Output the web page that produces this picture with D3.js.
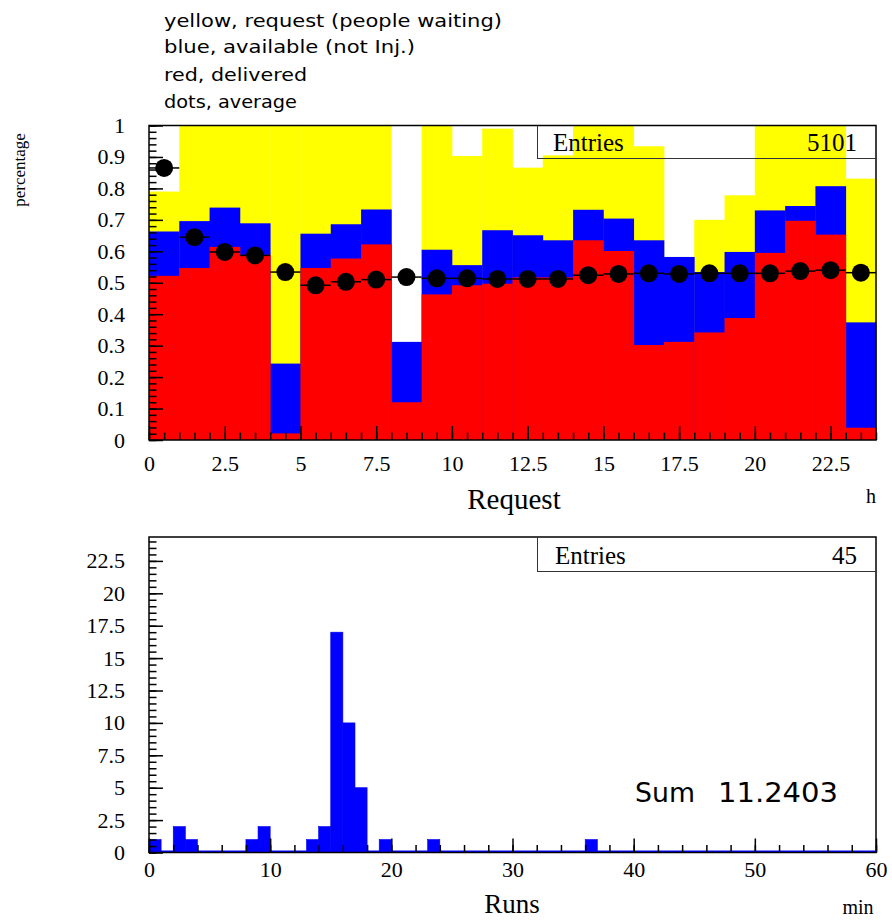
<!DOCTYPE html>
<html>
<head>
<meta charset="utf-8">
<script src="https://cdn.jsdelivr.net/npm/d3@7"></script>
<style>
  html, body { margin: 0; padding: 0; background: #fff; }
  svg { display: block; }
</style>
</head>
<body>
<svg id="chart" width="892" height="921"></svg>
<script>
// ---------- DATA ----------
const hours = [0,1,2,3,4,5,6,7,8,9,10,11,12,13,14,15,16,17,18,19,20,21,22,23];
const requestPct   = [0.79,1,1,1,1,1,1,1,0.31,1,0.903,0.99,0.866,0.905,1,1,0.934,0.582,0.70,0.778,1,1,1,0.831];
const availablePct = [0.663,0.696,0.739,0.689,0.243,0.656,0.686,0.733,0.312,0.605,0.556,0.667,0.651,0.635,0.732,0.704,0.635,0.582,0.534,0.598,0.73,0.744,0.807,0.374];
const deliveredPct = [0.522,0.547,0.614,0.589,0.021,0.547,0.577,0.622,0.12,0.463,0.492,0.497,0.517,0.517,0.635,0.601,0.302,0.312,0.342,0.388,0.595,0.697,0.653,0.039];
const averagePct   = [0.865,0.645,0.598,0.587,0.534,0.492,0.503,0.51,0.518,0.514,0.514,0.512,0.512,0.512,0.524,0.528,0.53,0.528,0.53,0.53,0.53,0.537,0.54,0.532];

const runsMinutes = [0,1,2,3,4,5,6,7,8,9,10,11,12,13,14,15,16,17,18,19,20,21,22,23,24,25,26,27,28,29,
                     30,31,32,33,34,35,36,37,38,39,40,41,42,43,44,45,46,47,48,49,50,51,52,53,54,55,56,57,58,59];
const runsCounts  = [1,0,2,1,0,0,0,0,1,2,0,0,0,1,2,17,10,5,0,1,0,0,0,1,0,0,0,0,0,0,
                     0,0,0,0,0,0,1,0,0,0,0,0,0,0,0,0,0,0,0,0,0,0,0,0,0,0,0,0,0,0];

const topYTicks = [0,0.1,0.2,0.3,0.4,0.5,0.6,0.7,0.8,0.9,1];
const topXTicks = [0,2.5,5,7.5,10,12.5,15,17.5,20,22.5];
const botYTicks = [0,2.5,5,7.5,10,12.5,15,17.5,20,22.5];
const botXTicks = [0,10,20,30,40,50,60];

const legendLines = ["yellow, request (people waiting)", "blue, available (not Inj.)", "red, delivered", "dots, average"];
const topEntries = 5101;
const botEntries = 45;
const sumText = "11.2403";

// ---------- LAYOUT ----------
const svg = d3.select("#chart");
const L = 149, R = 876;
const T1 = 125.5, B1 = 440;
const T2 = 537, B2 = 852.5;
const serif = "'Liberation Serif', 'Times New Roman', serif";
const sans = "'DejaVu Sans', sans-serif";

// legend text
const legendY = [27, 53, 81, 108];
const legendW = [338, 251, 143, 133];
legendLines.forEach((t, i) => {
  svg.append("text").attr("x", 164).attr("y", legendY[i])
    .attr("font-family", sans).attr("font-size", 18.5)
    .attr("textLength", legendW[i]).attr("lengthAdjust", "spacingAndGlyphs")
    .text(t);
});

// ---------- TOP CHART ----------
const x1 = d3.scaleLinear().domain([0, 24]).range([L, R]);
const y1 = d3.scaleLinear().domain([0, 1]).range([B1, T1]);
const g1 = svg.append("g");

function bars(vals, color) {
  g1.append("g").selectAll("rect").data(hours).join("rect")
    .attr("x", d => x1(d))
    .attr("width", d => x1(d + 1) - x1(d) + 0.4)
    .attr("y", d => y1(vals[d]))
    .attr("height", d => y1(0) - y1(vals[d]))
    .attr("fill", color);
}
bars(requestPct, "#ffff00");
bars(availablePct, "#0000ff");
bars(deliveredPct, "#ff0000");

// average error bars + dots
g1.append("g").selectAll("line").data(hours).join("line")
  .attr("x1", d => x1(d)).attr("x2", d => x1(d + 1))
  .attr("y1", d => y1(averagePct[d])).attr("y2", d => y1(averagePct[d]))
  .attr("stroke", "#000").attr("stroke-width", 1.5);
g1.append("g").selectAll("circle").data(hours).join("circle")
  .attr("cx", d => x1(d + 0.5)).attr("cy", d => y1(averagePct[d]))
  .attr("r", 9).attr("fill", "#000");

// frame
g1.append("rect").attr("x", L).attr("y", T1).attr("width", R - L).attr("height", B1 - T1)
  .attr("fill", "none").attr("stroke", "#000").attr("stroke-width", 1.5);

// axes
function styleAxis(sel) {
  sel.attr("font-family", serif).attr("font-size", 22);
  sel.select(".domain").remove();
  sel.selectAll("line").attr("stroke", "#000").attr("stroke-width", 1.5);
  sel.selectAll("text").attr("font-family", serif).attr("font-size", 22).attr("fill", "#000");
}
g1.append("g").attr("transform", `translate(${L},0)`)
  .call(d3.axisLeft(y1).tickValues(d3.range(0, 1.0001, 0.02)).tickSize(-7.5).tickFormat(""))
  .call(styleAxis);
g1.append("g").attr("transform", `translate(${L},0)`)
  .call(d3.axisLeft(y1).tickValues(topYTicks).tickSize(-14).tickPadding(24).tickFormat(d3.format("~g")))
  .call(styleAxis);
g1.append("g").attr("transform", `translate(0,${B1})`)
  .call(d3.axisBottom(x1).tickValues(d3.range(0, 24.001, 0.5)).tickSize(-7.5).tickFormat(""))
  .call(styleAxis);
g1.append("g").attr("transform", `translate(0,${B1})`)
  .call(d3.axisBottom(x1).tickValues(topXTicks).tickSize(-14).tickPadding(15).tickFormat(d3.format("~g")))
  .call(styleAxis);

// stats box (outline only)
g1.append("line").attr("x1", 537.5).attr("x2", 537.5).attr("y1", T1).attr("y2", 158.5).attr("stroke", "#333").attr("stroke-width", 1);
g1.append("line").attr("x1", 537).attr("x2", R).attr("y1", 158.5).attr("y2", 158.5).attr("stroke", "#333").attr("stroke-width", 1);
g1.append("text").attr("x", 553).attr("y", 151).attr("font-family", serif).attr("font-size", 25).text("Entries");
g1.append("text").attr("x", 857).attr("y", 151).attr("text-anchor", "end").attr("font-family", serif).attr("font-size", 25).text(topEntries);

// titles
svg.append("text").attr("x", 514).attr("y", 509).attr("text-anchor", "middle")
  .attr("font-family", serif).attr("font-size", 29).text("Request");
svg.append("text").attr("x", 871).attr("y", 503).attr("text-anchor", "middle")
  .attr("font-family", serif).attr("font-size", 20).text("h");
svg.append("text").attr("transform", "translate(25,170) rotate(-90)").attr("text-anchor", "middle")
  .attr("font-family", serif).attr("font-size", 17).text("percentage");

// ---------- BOTTOM CHART ----------
const x2 = d3.scaleLinear().domain([0, 60]).range([L, R]);
const y2 = d3.scaleLinear().domain([0, 20]).range([B2, 593.3]);
const g2 = svg.append("g");

g2.append("g").selectAll("rect").data(runsMinutes.filter(m => runsCounts[m] > 0)).join("rect")
  .attr("x", d => x2(d))
  .attr("width", d => x2(d + 1) - x2(d))
  .attr("y", d => y2(runsCounts[d]))
  .attr("height", d => y2(0) - y2(runsCounts[d]))
  .attr("fill", "#0000ff").attr("stroke", "#0000ee").attr("stroke-width", 0.6);
g2.append("line").attr("x1", L).attr("x2", R).attr("y1", B2 - 1).attr("y2", B2 - 1)
  .attr("stroke", "#0000ff").attr("stroke-width", 2);

g2.append("rect").attr("x", L).attr("y", T2).attr("width", R - L).attr("height", B2 - T2)
  .attr("fill", "none").attr("stroke", "#000").attr("stroke-width", 1.5);

g2.append("g").attr("transform", `translate(${L},0)`)
  .call(d3.axisLeft(y2).tickValues(d3.range(0, 24.01, 0.5)).tickSize(-7.5).tickFormat(""))
  .call(styleAxis);
g2.append("g").attr("transform", `translate(${L},0)`)
  .call(d3.axisLeft(y2).tickValues(botYTicks).tickSize(-14).tickPadding(24).tickFormat(d3.format("~g")))
  .call(styleAxis);
g2.append("g").attr("transform", `translate(0,${B2})`)
  .call(d3.axisBottom(x2).tickValues(d3.range(0, 60.01, 2)).tickSize(-7.5).tickFormat(""))
  .call(styleAxis);
g2.append("g").attr("transform", `translate(0,${B2})`)
  .call(d3.axisBottom(x2).tickValues(botXTicks).tickSize(-14).tickPadding(9).tickFormat(d3.format("~g")))
  .call(styleAxis);

g2.append("line").attr("x1", 537.5).attr("x2", 537.5).attr("y1", T2).attr("y2", 571.5).attr("stroke", "#333").attr("stroke-width", 1);
g2.append("line").attr("x1", 537).attr("x2", R).attr("y1", 571.5).attr("y2", 571.5).attr("stroke", "#333").attr("stroke-width", 1);
g2.append("text").attr("x", 555).attr("y", 564).attr("font-family", serif).attr("font-size", 25).text("Entries");
g2.append("text").attr("x", 857).attr("y", 564).attr("text-anchor", "end").attr("font-family", serif).attr("font-size", 25).text(botEntries);

g2.append("text").attr("x", 635).attr("y", 802).attr("font-family", sans).attr("font-size", 27)
  .attr("textLength", 60).attr("lengthAdjust", "spacingAndGlyphs").text("Sum");
g2.append("text").attr("x", 718).attr("y", 802).attr("font-family", sans).attr("font-size", 27)
  .attr("textLength", 120).attr("lengthAdjust", "spacingAndGlyphs").text(sumText);

svg.append("text").attr("x", 512).attr("y", 913).attr("text-anchor", "middle")
  .attr("font-family", serif).attr("font-size", 27).text("Runs");
svg.append("text").attr("x", 858).attr("y", 914).attr("text-anchor", "middle")
  .attr("font-family", serif).attr("font-size", 20).text("min");
</script>
</body>
</html>
